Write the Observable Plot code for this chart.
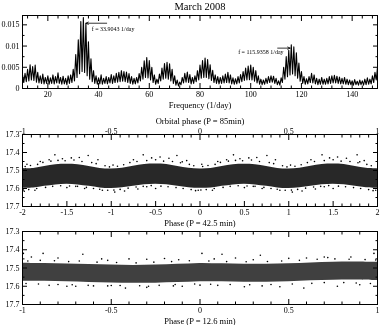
<!DOCTYPE html>
<html><head><meta charset="utf-8">
<script src="https://cdn.jsdelivr.net/npm/d3@7"></script>
<script src="https://cdn.jsdelivr.net/npm/@observablehq/plot@0.6"></script>
<style>
html,body{margin:0;padding:0;background:#fff;}
#chart{position:relative;width:382px;height:325px;overflow:hidden;background:#fff;filter:grayscale(1);}
#chart svg{position:absolute;left:0;top:0;}
</style></head><body><div id="chart"></div>
<script>
// ---------------- DATA ----------------
const chartTitle = "March 2008";

// Periodogram: power at integer frequencies (alias peaks) and at the half-integer troughs
const peakFreq = d3.range(10, 151, 1);
const peakPower = [
  0.0032,0.0036,0.0045,0.0056,0.0052,0.0055,0.0038,0.0030,0.0034,0.0026,
  0.0030,0.0025,0.0032,0.0028,0.0037,0.0026,0.0029,0.0024,0.0030,0.0032,
  0.0045,0.0080,0.0115,0.0158,0.0167,0.0153,0.0110,0.0070,0.0042,0.0030,
  0.0025,0.0032,0.0024,0.0028,0.0026,0.0033,0.0030,0.0036,0.0038,0.0042,
  0.0040,0.0039,0.0035,0.0028,0.0024,0.0026,0.0035,0.0050,0.0065,0.0073,
  0.0066,0.0050,0.0032,0.0022,0.0034,0.0048,0.0059,0.0062,0.0058,0.0045,
  0.0030,0.0020,0.0015,0.0026,0.0036,0.0039,0.0033,0.0026,0.0030,0.0042,
  0.0055,0.0066,0.0072,0.0068,0.0056,0.0043,0.0032,0.0028,0.0026,0.0030,
  0.0034,0.0038,0.0032,0.0025,0.0023,0.0028,0.0033,0.0040,0.0048,0.0053,
  0.0055,0.0050,0.0042,0.0030,0.0022,0.0020,0.0024,0.0028,0.0030,0.0029,
  0.0024,0.0018,0.0025,0.0050,0.0075,0.0090,0.0103,0.0098,0.0084,0.0060,
  0.0040,0.0028,0.0023,0.0028,0.0036,0.0032,0.0024,0.0022,0.0026,0.0022,
  0.0024,0.0028,0.0030,0.0031,0.0029,0.0027,0.0024,0.0026,0.0022,0.0020,
  0.0018,0.0021,0.0017,0.0020,0.0018,0.0022,0.0025,0.0022,0.0030,0.0038,0.0050
];
const troughFreq = d3.range(10.5, 150, 1);
const troughPower = [
  0.0014,0.0016,0.0018,0.0020,0.0019,0.0015,0.0013,0.0012,0.0011,0.0012,
  0.0010,0.0012,0.0011,0.0013,0.0012,0.0010,0.0011,0.0009,0.0012,0.0014,
  0.0018,0.0026,0.0035,0.0040,0.0038,0.0030,0.0022,0.0016,0.0012,0.0010,
  0.0011,0.0010,0.0012,0.0011,0.0013,0.0012,0.0014,0.0015,0.0016,0.0017,
  0.0016,0.0014,0.0012,0.0010,0.0011,0.0013,0.0018,0.0022,0.0026,0.0025,
  0.0020,0.0014,0.0010,0.0012,0.0018,0.0022,0.0024,0.0022,0.0018,0.0012,
  0.0008,0.0006,0.0009,0.0013,0.0015,0.0014,0.0011,0.0012,0.0016,0.0020,
  0.0024,0.0026,0.0026,0.0023,0.0019,0.0014,0.0012,0.0011,0.0012,0.0013,
  0.0014,0.0013,0.0011,0.0010,0.0011,0.0013,0.0016,0.0019,0.0020,0.0021,
  0.0020,0.0017,0.0013,0.0010,0.0009,0.0010,0.0012,0.0014,0.0015,0.0012,
  0.0009,0.0008,0.0014,0.0022,0.0028,0.0032,0.0034,0.0030,0.0024,0.0017,
  0.0012,0.0010,0.0011,0.0014,0.0013,0.0011,0.0009,0.0010,0.0010,0.0010,
  0.0011,0.0012,0.0013,0.0013,0.0012,0.0011,0.0011,0.0010,0.0009,0.0009,
  0.0008,0.0009,0.0008,0.0009,0.0008,0.0009,0.0010,0.0011,0.0014,0.0020
];
const annotationFreq = [33.9043, 115.9358];
const annotationLabel = ["f = 33.9043 1/day", "f = 115.9358 1/day"];
const annotationArrowPower = [0.01538, 0.00951];
const annotationTextPower = [0.01405, 0.00857];

// Light curve folded on P = 42.5 min (dense band: top/bottom edges, magnitudes)
const phase42 = [-2,-1.875,-1.75,-1.625,-1.5,-1.375,-1.25,-1.125,-1,-0.875,-0.75,-0.625,-0.5,-0.375,-0.25,-0.125,0,
                 0.125,0.25,0.375,0.5,0.625,0.75,0.875,1,1.125,1.25,1.375,1.5,1.625,1.75,1.875,2];
const band42Top = [17.491,17.489,17.478,17.468,17.465,17.468,17.478,17.489,17.492,17.488,17.477,17.467,17.464,17.467,17.478,17.488,17.491,
                   17.489,17.478,17.468,17.465,17.468,17.478,17.489,17.492,17.488,17.477,17.467,17.464,17.467,17.478,17.488,17.491];
const band42Bottom = [17.599,17.597,17.588,17.580,17.577,17.580,17.588,17.597,17.600,17.596,17.587,17.579,17.576,17.579,17.588,17.596,17.599,
                      17.597,17.588,17.580,17.577,17.580,17.588,17.597,17.600,17.596,17.587,17.579,17.576,17.579,17.588,17.596,17.599];
const scatter42Phase = [-1.635,-1.26,-1.45,-1.55,-1.36,-1.70,-1.15,-0.64,-0.545,-0.45,-0.26,-0.35,-0.75,-0.15,
  0.377,0.754,0.55,0.45,0.64,0.30,0.85,1.375,1.77,1.46,1.55,1.65,1.25,1.85,
  -1.95,-0.98,0.02,1.02,-1.86,-0.96,-1.10,-0.05,0.14,1.04,0.90,1.95,-1.50,-0.50,0.50,1.50,
  -1.30,-0.70,0.70,1.30,-1.98,-0.85,1.15,-1.80,-0.20,0.20,1.80,-1.40,-0.60,0.60,1.40,
  -1.97,-1.91,-1.83,-1.77,-1.68,-1.60,-1.52,-1.42,-1.33,-1.22,-1.17,-1.07,-1.02,-0.93,-0.86,-0.79,-0.71,-0.60,-0.50,-0.41,-0.31,-0.22,-0.12,-0.07,
  0.03,0.09,0.17,0.23,0.32,0.40,0.48,0.58,0.67,0.78,0.83,0.93,0.98,1.07,1.14,1.21,1.29,1.40,1.50,1.59,1.69,1.78,1.88,1.93,
  -1.99,-1.93,-1.84,-1.74,-1.66,-1.57,-1.47,-1.38,-1.28,-1.20,-1.13,-1.04,-0.97,-0.90,-0.81,-0.72,-0.64,-0.55,-0.44,-0.36,-0.27,-0.19,-0.10,-0.02,
  0.01,0.07,0.16,0.26,0.34,0.43,0.53,0.62,0.72,0.80,0.87,0.96,1.03,1.10,1.19,1.28,1.36,1.45,1.56,1.64,1.73,1.81,1.90,1.98];
const scatter42Mag = [17.413,17.417,17.430,17.435,17.428,17.440,17.440,17.413,17.430,17.425,17.417,17.432,17.440,17.445,
  17.413,17.417,17.430,17.435,17.428,17.440,17.440,17.413,17.413,17.430,17.425,17.432,17.440,17.445,
  17.465,17.470,17.465,17.470,17.610,17.620,17.610,17.612,17.610,17.620,17.610,17.612,17.595,17.600,17.595,17.600,
  17.600,17.603,17.600,17.603,17.615,17.614,17.614,17.450,17.452,17.450,17.452,17.588,17.590,17.588,17.590,
  17.478,17.472,17.466,17.455,17.448,17.444,17.446,17.442,17.450,17.456,17.462,17.474,17.480,17.476,17.468,17.456,17.450,17.445,17.440,17.448,17.450,17.457,17.466,17.474,
  17.478,17.472,17.466,17.455,17.448,17.444,17.446,17.442,17.450,17.456,17.462,17.474,17.480,17.476,17.468,17.456,17.450,17.445,17.440,17.448,17.450,17.457,17.466,17.474,
  17.608,17.606,17.600,17.594,17.588,17.585,17.586,17.588,17.594,17.600,17.604,17.610,17.609,17.605,17.598,17.592,17.588,17.584,17.587,17.590,17.595,17.600,17.606,17.610,
  17.608,17.606,17.600,17.594,17.588,17.585,17.586,17.588,17.594,17.600,17.604,17.610,17.609,17.605,17.598,17.592,17.588,17.584,17.587,17.590,17.595,17.600,17.606,17.610];
const phase42Ticks = [-2,-1.5,-1,-0.5,0,0.5,1,1.5,2];
const phase42TickLabels = ["-2","-1.5","-1","-0.5","0","0.5","1","1.5","2"];
const orbitalTicks = [-1,-0.5,0,0.5,1];
const orbitalTickLabels = ["-1","-0.5","0","0.5","1"];

// Light curve folded on P = 12.6 min
const phase12 = [-1,-0.875,-0.75,-0.625,-0.5,-0.375,-0.25,-0.125,0,0.125,0.25,0.375,0.5,0.625,0.75,0.875,1];
const band12Top = [17.474,17.476,17.478,17.481,17.484,17.486,17.484,17.480,17.475,17.477,17.479,17.479,17.477,17.472,17.468,17.467,17.469];
const band12Bottom = [17.572,17.573,17.575,17.579,17.582,17.584,17.583,17.580,17.575,17.576,17.578,17.578,17.575,17.570,17.567,17.566,17.569];
const scatter12Phase = [-0.995,-0.884,-0.66,0.011,0.124,0.34,0.98,-0.554,-0.95,-0.80,-0.40,-0.20,0.20,0.50,0.70,0.85,0.60,-0.30,
  -0.42,-0.29,0.585,0.774,-0.85,-0.60,-0.10,0.10,0.35,0.90,-0.70,0.45,-0.50,0.0,0.30,-0.15,
  -0.97,-0.90,-0.82,-0.74,-0.68,-0.58,-0.47,-0.36,-0.26,-0.16,-0.06,0.05,0.15,0.26,0.38,0.46,0.56,0.66,0.76,0.84,0.93,0.99,-0.52,0.08,0.72,-0.12,
  -0.98,-0.91,-0.80,-0.72,-0.63,-0.52,-0.45,-0.34,-0.23,-0.14,-0.03,0.06,0.17,0.28,0.40,0.52,0.63,0.70,0.81,0.88,0.96,-0.30,0.25,-0.75];
const scatter12Mag = [17.420,17.420,17.425,17.420,17.425,17.430,17.420,17.450,17.440,17.445,17.450,17.448,17.445,17.447,17.440,17.440,17.445,17.452,
  17.610,17.600,17.610,17.600,17.595,17.598,17.600,17.595,17.598,17.592,17.600,17.603,17.596,17.594,17.455,17.598,
  17.462,17.458,17.460,17.465,17.462,17.468,17.470,17.472,17.468,17.465,17.460,17.462,17.465,17.466,17.464,17.462,17.458,17.452,17.450,17.452,17.454,17.456,17.458,17.450,17.443,17.455,
  17.585,17.588,17.590,17.592,17.595,17.598,17.596,17.597,17.595,17.590,17.588,17.589,17.590,17.592,17.590,17.588,17.584,17.580,17.580,17.582,17.585,17.606,17.603,17.600];
const phase12Ticks = [-1,-0.5,0,0.5,1];
const phase12TickLabels = ["-1","-0.5","0","0.5","1"];

const magTicks = [17.3,17.4,17.5,17.6,17.7];
const magTickLabels = ["17.3","17.4","17.5","17.6","17.7"];
const freqTicks = [20,40,60,80,100,120,140];
const freqTickLabels = ["20","40","60","80","100","120","140"];
const powerTicks = [0,0.005,0.01,0.015];
const powerTickLabels = ["0","0.005","0.01","0.015"];

const titleFreq = "Frequency (1/day)";
const titleOrbital = "Orbital phase (P = 85min)";
const title42 = "Phase (P = 42.5 min)";
const title12 = "Phase (P = 12.6 min)";

// ---------------- DRAWING ----------------
const serif = "'Liberation Serif','Times New Roman',serif";
const W = 382, H = 325;
const key = v => Math.round(v * 1e6);
function fmt(values, labels) {
  const m = new Map(values.map((v, i) => [key(v), labels[i]]));
  return d => m.get(key(+d)) ?? "";
}
const blank = () => "";
function minorTicks(lo, hi, step, majors) {
  const mk = new Set(majors.map(key));
  return d3.range(Math.round((hi - lo) / step) + 1).map(i => lo + i * step).filter(v => !mk.has(key(v)));
}
function frameAxes({xMajor, xMinor, yMajor, yMinor, xFormat, yFormat, topMajor, topFormat}) {
  const c = {label: null, fontSize: 8, fontFamily: serif};
  const topKeys = (topMajor || []).map(key);
  return [
    Plot.axisX(xMajor, {...c, anchor: "bottom", tickSize: -5, tickPadding: 7.5, tickFormat: xFormat}),
    Plot.axisX(xMinor, {...c, anchor: "bottom", tickSize: -2.5, tickFormat: blank}),
    Plot.axisX(topMajor || xMajor, {...c, anchor: "top", tickSize: -5, tickPadding: 6, tickFormat: topFormat || blank}),
    Plot.axisX(xMinor.filter(v => !topKeys.includes(key(v))), {...c, anchor: "top", tickSize: -2.5, tickFormat: blank}),
    Plot.axisY(yMajor, {...c, anchor: "left", tickSize: -5, tickPadding: 8, tickFormat: yFormat}),
    Plot.axisY(yMinor, {...c, anchor: "left", tickSize: -2.5, tickFormat: blank}),
    Plot.axisY(yMajor, {...c, anchor: "right", tickSize: -5, tickFormat: blank}),
    Plot.axisY(yMinor, {...c, anchor: "right", tickSize: -2.5, tickFormat: blank}),
    Plot.frame({stroke: "black", strokeWidth: 1})
  ];
}
const style = {background: "transparent", fontFamily: serif, fontSize: "8px", color: "black", overflow: "visible"};
const label = (t, anchor, dy, size = 8.5) =>
  Plot.text([t], {text: d => d, frameAnchor: anchor, lineAnchor: "middle", dy, fontSize: size, fontFamily: serif, fill: "black"});

// Panel 1: periodogram
const periodogram = [];
peakFreq.forEach((f, i) => {
  periodogram.push({f, p: peakPower[i]});
  if (i < troughFreq.length) periodogram.push({f: troughFreq[i], p: troughPower[i]});
});
const arrows = [
  {x1: annotationFreq[0] + 9.3, x2: annotationFreq[0] + 1.1, y: annotationArrowPower[0]},
  {x1: annotationFreq[1] - 5.3, x2: annotationFreq[1] - 0.4, y: annotationArrowPower[1]}
];
const notes = [
  {x: annotationFreq[0] + 3.4, y: annotationTextPower[0], t: annotationLabel[0]},
  {x: annotationFreq[1] - 20.9, y: annotationTextPower[1], t: annotationLabel[1]}
];
const p1 = Plot.plot({
  width: W, height: H, marginLeft: 22, marginRight: 5, marginTop: 15, marginBottom: 237,
  style,
  x: {domain: [10, 150], label: null},
  y: {domain: [0, 0.0172], label: null},
  marks: [
    Plot.line(periodogram, {x: "f", y: "p", stroke: "black", strokeWidth: 1.1, clip: true}),
    Plot.arrow(arrows, {x1: "x1", x2: "x2", y1: "y", y2: "y", stroke: "black", strokeWidth: 0.8, headLength: 5, headAngle: 50}),
    Plot.text(notes, {x: "x", y: "y", text: "t", textAnchor: "start", lineAnchor: "middle", fontSize: 6, fontFamily: serif, fill: "black"}),
    ...frameAxes({
      xMajor: freqTicks, xMinor: minorTicks(12, 148, 4, freqTicks),
      yMajor: powerTicks, yMinor: minorTicks(0.0025, 0.0175, 0.005, powerTicks).filter(v => v < 0.0172),
      xFormat: fmt(freqTicks, freqTickLabels), yFormat: fmt(powerTicks, powerTickLabels)
    }),
    label(chartTitle, "top", -9, 10.5),
    label(titleFreq, "bottom", 16.5)
  ]
});

// Panel 2: folded on 42.5 min
const band42 = phase42.map((x, i) => ({x, top: band42Top[i], bottom: band42Bottom[i]}));
const pts42 = scatter42Phase.map((x, i) => ({x, y: scatter42Mag[i]}));
const orbitalPos = orbitalTicks.map(v => v * 2);
const p2 = Plot.plot({
  width: W, height: H, marginLeft: 22, marginRight: 5, marginTop: 134, marginBottom: 119,
  style,
  x: {domain: [-2, 2], label: null},
  y: {domain: [17.3, 17.7], reverse: true, label: null},
  marks: [
    Plot.areaY(band42, {x: "x", y1: "top", y2: "bottom", fill: "#282828", curve: "catmull-rom"}),
    Plot.dot(pts42, {x: "x", y: "y", r: 0.8, fill: "black", stroke: "none"}),
    ...frameAxes({
      xMajor: phase42Ticks, xMinor: minorTicks(-2, 2, 0.1, phase42Ticks),
      yMajor: magTicks, yMinor: minorTicks(17.35, 17.65, 0.1, magTicks),
      xFormat: fmt(phase42Ticks, phase42TickLabels), yFormat: fmt(magTicks, magTickLabels),
      topMajor: orbitalPos, topFormat: fmt(orbitalPos, orbitalTickLabels)
    }),
    label(titleOrbital, "top", -13.5),
    label(title42, "bottom", 16.5)
  ]
});

// Panel 3: folded on 12.6 min
const band12 = phase12.map((x, i) => ({x, top: band12Top[i], bottom: band12Bottom[i]}));
const pts12 = scatter12Phase.map((x, i) => ({x, y: scatter12Mag[i]}));
const p3 = Plot.plot({
  width: W, height: H, marginLeft: 22, marginRight: 5, marginTop: 231, marginBottom: 21,
  style,
  x: {domain: [-1, 1], label: null},
  y: {domain: [17.3, 17.7], reverse: true, label: null},
  marks: [
    Plot.areaY(band12, {x: "x", y1: "top", y2: "bottom", fill: "#404040", curve: "catmull-rom"}),
    Plot.dot(pts12, {x: "x", y: "y", r: 0.8, fill: "black", stroke: "none"}),
    ...frameAxes({
      xMajor: phase12Ticks, xMinor: minorTicks(-1, 1, 0.1, phase12Ticks),
      yMajor: magTicks, yMinor: minorTicks(17.35, 17.65, 0.1, magTicks),
      xFormat: fmt(phase12Ticks, phase12TickLabels), yFormat: fmt(magTicks, magTickLabels)
    }),
    label(title12, "bottom", 17)
  ]
});

const chart = document.getElementById("chart");
[p1, p2, p3].forEach(svg => chart.appendChild(svg));
</script></body></html>
